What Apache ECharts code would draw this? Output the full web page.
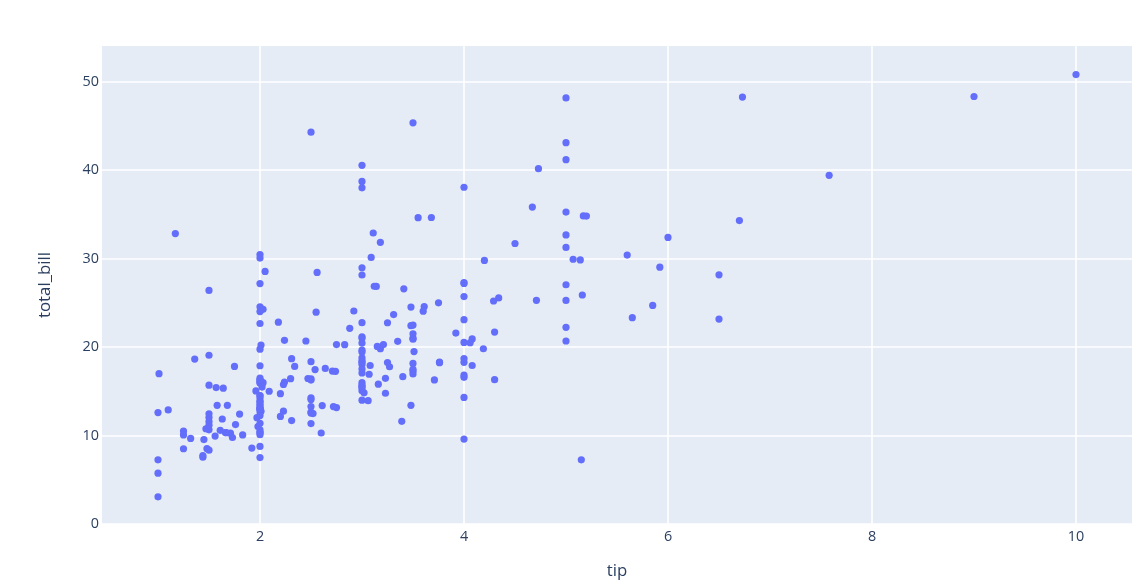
<!DOCTYPE html>
<html>
<head>
<meta charset="utf-8">
<script src="https://cdn.jsdelivr.net/npm/echarts@6/dist/echarts.min.js"></script>
<style>
html,body{margin:0;padding:0;background:#fff;}
#c{width:1142px;height:585px;}
</style>
</head>
<body>
<div id="c"></div>
<script>
var totalBill = [16.99,10.34,21.01,23.68,24.59,25.29,8.77,26.88,15.04,14.78,10.27,35.26,15.42,18.43,14.83,21.58,10.33,16.29,16.97,20.65,17.92,20.29,15.77,39.42,19.82,17.81,13.37,12.69,21.7,19.65,9.55,18.35,15.06,20.69,17.78,24.06,16.31,16.93,18.69,31.27,16.04,17.46,13.94,9.68,30.4,18.29,22.23,32.4,28.55,18.04,12.54,10.29,34.81,9.94,25.56,19.49,38.01,26.41,11.24,48.27,20.29,13.81,11.02,18.29,17.59,20.08,16.45,3.07,20.23,15.01,12.02,17.07,26.86,25.28,14.73,10.51,17.92,27.2,22.76,17.29,19.44,16.66,10.07,32.68,15.98,34.83,13.03,18.28,24.71,21.16,28.97,22.49,5.75,16.32,22.75,40.17,27.28,12.03,21.01,12.46,11.35,15.38,44.3,22.42,20.92,15.36,20.49,25.21,18.24,14.31,14.0,7.25,38.07,23.95,25.71,17.31,29.93,10.65,12.43,24.08,11.69,13.42,14.26,15.95,12.48,29.8,8.52,14.52,11.38,22.82,19.08,20.27,11.17,12.26,18.26,8.51,10.33,14.15,16.0,13.16,17.47,34.3,41.19,27.05,16.43,8.35,18.64,11.87,9.78,7.51,14.07,13.13,17.26,24.55,19.77,29.85,48.17,25.0,13.39,16.49,21.5,12.66,16.21,13.81,17.51,24.52,20.76,31.71,10.59,10.63,50.81,15.81,7.25,31.85,16.82,32.9,17.89,14.48,9.6,34.63,34.65,23.33,45.35,23.17,40.55,20.69,20.9,30.46,18.15,23.1,15.69,19.81,28.44,15.48,16.58,7.56,10.34,43.11,13.0,13.51,18.71,12.74,13.0,16.4,20.53,16.47,26.59,38.73,24.27,12.76,30.06,25.89,48.33,13.27,28.17,12.9,28.15,11.59,7.74,30.14,12.16,13.42,8.58,15.98,13.42,16.27,10.09,20.45,13.28,22.12,24.01,15.69,11.61,10.77,15.53,10.07,12.6,32.83,35.83,29.03,27.18,22.67,17.82,18.78];
var tip = [1.01,1.66,3.5,3.31,3.61,4.71,2.0,3.12,1.96,3.23,1.71,5.0,1.57,3.0,3.02,3.92,1.67,3.71,3.5,3.35,4.08,2.75,2.23,7.58,3.18,2.34,2.0,2.0,4.3,3.0,1.45,2.5,3.0,2.45,3.27,3.6,2.0,3.07,2.31,5.0,2.24,2.54,3.06,1.32,5.6,3.0,5.0,6.0,2.05,3.0,2.5,2.6,5.2,1.56,4.34,3.51,3.0,1.5,1.76,6.73,3.21,2.0,1.98,3.76,2.64,3.15,2.47,1.0,2.01,2.09,1.97,3.0,3.14,5.0,2.2,1.25,3.08,4.0,3.0,2.71,3.0,3.4,1.83,5.0,2.03,5.17,2.0,4.0,5.85,3.0,3.0,3.5,1.0,4.3,3.25,4.73,4.0,1.5,3.0,1.5,2.5,3.0,2.5,3.48,4.08,1.64,4.06,4.29,3.76,4.0,3.0,1.0,4.0,2.55,4.0,3.5,5.07,1.5,1.8,2.92,2.31,1.68,2.5,2.0,2.52,4.2,1.48,2.0,2.0,2.18,1.5,2.83,1.5,2.0,3.25,1.25,2.0,2.0,2.0,2.75,3.5,6.7,5.0,5.0,2.3,1.5,1.36,1.63,1.73,2.0,2.5,2.0,2.74,2.0,2.0,5.14,5.0,3.75,2.61,2.0,3.5,2.5,2.0,2.0,3.0,3.48,2.24,4.5,1.61,2.0,10.0,3.16,5.15,3.18,4.0,3.11,2.0,2.0,4.0,3.55,3.68,5.65,3.5,6.5,3.0,5.0,3.5,2.0,3.5,4.0,1.5,4.19,2.56,2.02,4.0,1.44,2.0,5.0,2.0,2.0,4.0,2.01,2.0,2.5,4.0,3.23,3.41,3.0,2.03,2.23,2.0,5.16,9.0,2.5,6.5,1.1,3.0,1.5,1.44,3.09,2.2,3.48,1.92,3.0,1.58,2.5,2.0,3.0,2.72,2.88,2.0,3.0,3.39,1.47,3.0,1.25,1.0,1.17,4.67,5.92,2.0,2.0,1.75,3.0];
var xTicks = [2, 4, 6, 8, 10];
var yTicks = [0, 10, 20, 30, 40, 50];

var points = tip.map(function (t, i) { return [t, totalBill[i]]; });
var font = '"Open Sans", "Noto Sans", sans-serif';
var chart = echarts.init(document.getElementById('c'), null, {renderer: 'canvas'});
chart.setOption({
  animation: false,
  backgroundColor: '#ffffff',
  grid: {left: 102, right: 10, top: 46, bottom: 61, show: true, backgroundColor: '#E5ECF6', borderWidth: 0},
  xAxis: {
    type: 'value', min: 0.451, max: 10.549,
    name: 'tip', nameLocation: 'middle', nameGap: 39,
    nameTextStyle: {color: '#2a3f5f', fontSize: 16.8, fontFamily: font},
    axisLine: {show: false}, axisTick: {show: false, customValues: xTicks},
    axisLabel: {customValues: xTicks, color: '#2a3f5f', fontSize: 14.4, fontFamily: font, margin: 6},
    splitLine: {show: true, lineStyle: {color: '#ffffff', width: 1.6}}
  },
  yAxis: {
    type: 'value', min: 0, max: 54.04,
    name: 'total_bill', nameLocation: 'middle', nameGap: 48,
    nameTextStyle: {color: '#2a3f5f', fontSize: 16.8, fontFamily: font},
    axisLine: {show: false}, axisTick: {show: false, customValues: yTicks},
    axisLabel: {customValues: yTicks, color: '#2a3f5f', fontSize: 14.4, fontFamily: font, margin: 3},
    splitLine: {show: true, lineStyle: {color: '#ffffff', width: 1.6}}
  },
  series: [{
    type: 'scatter',
    data: points,
    symbolSize: 7.2,
    itemStyle: {color: '#636efa', opacity: 1},
    emphasis: {disabled: true}
  }]
});
</script>
</body>
</html>
